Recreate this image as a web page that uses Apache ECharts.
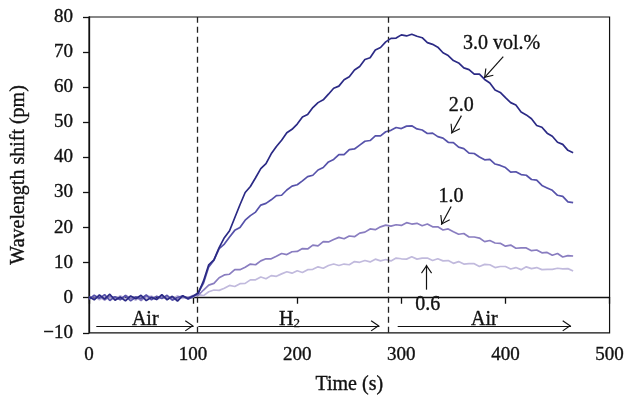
<!DOCTYPE html>
<html>
<head>
<meta charset="utf-8">
<script src="https://cdn.jsdelivr.net/npm/echarts@6/dist/echarts.min.js"></script>
<style>html,body{margin:0;padding:0;background:#fff;}#c{width:627px;height:400px;}</style>
</head>
<body>
<div id="c"></div>
<script>
const times = [0,5,10,15,20,25,30,35,40,45,50,55,60,65,70,75,80,85,90,95,100,105,110,115,120,125,130,135,140,145,150,155,160,165,170,175,180,185,190,195,200,205,210,215,220,225,230,235,240,245,250,255,260,265,270,275,280,285,290,295,300,305,310,315,320,325,330,335,340,345,350,355,360,365,370,375,380,385,390,395,400,405,410,415,420,425,430,435,440,445,450,455,460,465];

const shift30 = [0.3,-0.6,0.8,-0.4,1.0,-0.7,0.2,-0.9,0.5,-0.3,0.7,-0.8,0.1,-0.5,0.9,-0.6,0.4,-1.0,0.6,-0.2,0.5,
1.3,4.8,9.4,10.8,14.3,17.1,19.1,22.8,26.5,30.0,31.7,34.2,36.8,38.2,41.0,43.1,44.9,47.0,48.0,49.5,51.5,52.2,54.2,55.6,56.4,58.0,59.7,60.3,62.1,63.0,64.9,65.9,67.9,68.4,70.6,71.3,72.9,73.9,74.0,74.9,74.6,75.1,74.5,74.1,72.7,72.2,71.4,69.8,69.0,67.6,66.9,65.5,65.0,63.7,63.7,62.2,61.2,59.2,58.5,57.0,55.6,54.9,52.9,52.1,51.0,49.1,48.6,46.9,46.0,44.3,43.7,42.0,41.3];

const shift20 = [-0.4,0.7,-0.2,0.9,-0.8,0.3,-0.5,0.6,-0.9,0.2,-0.3,0.8,-0.6,0.4,-0.2,0.7,-0.7,0.1,0.5,-0.4,0.3,
1.5,4.2,8.8,10.7,14.0,15.3,17.3,19.2,20.0,22.1,23.4,24.4,26.4,26.9,27.9,29.1,29.2,30.7,31.8,32.2,33.3,34.5,34.9,36.4,37.1,38.7,39.4,40.8,40.8,42.2,42.4,43.5,44.6,44.8,46.1,46.1,47.3,47.7,48.5,48.2,48.9,49.0,48.1,47.8,46.8,46.9,45.9,45.5,44.3,44.2,42.9,42.5,41.2,41.1,40.1,39.3,39.4,38.1,37.7,37.1,35.8,35.9,35.1,34.9,33.7,33.5,32.0,31.3,30.6,29.2,28.9,27.3,27.1];

const shift10 = [0.2,-0.3,0.5,-0.7,0.4,0.1,-0.6,0.7,-0.2,0.3,-0.8,0.5,0.2,-0.4,0.6,-0.3,0.1,-0.6,0.4,0.0,0.6,
0.7,2.2,3.6,4.1,5.7,6.5,6.7,8.0,8.0,8.7,9.6,9.4,10.5,11.1,11.1,11.8,12.6,12.3,13.1,13.2,14.0,13.9,15.0,14.8,16.0,15.9,16.6,17.2,16.8,17.6,17.4,18.4,18.7,19.6,19.4,20.2,20.7,20.4,20.8,20.6,21.4,21.0,21.2,20.5,21.0,20.2,20.2,19.3,19.6,18.8,18.1,18.3,17.3,17.3,17.0,16.0,16.3,15.6,15.5,14.7,15.0,14.1,14.2,14.2,13.4,13.6,12.8,12.9,12.1,12.6,11.6,12.0,11.9];

const shift06 = [-0.2,0.4,-0.6,0.3,0.2,-0.5,0.6,-0.3,0.1,-0.7,0.4,-0.1,0.5,-0.6,0.2,0.3,-0.4,0.6,-0.2,0.1,0.2,
0.9,0.6,1.7,2.2,2.1,2.7,3.5,3.2,4.0,4.1,5.1,5.1,5.9,5.4,6.3,6.1,6.8,7.4,7.0,7.7,7.2,8.0,8.1,8.8,8.4,9.2,9.6,9.2,9.6,9.4,10.3,10.1,10.6,10.2,11.0,10.5,10.9,10.5,11.3,11.1,11.0,11.7,11.0,11.3,11.3,10.6,11.1,10.5,10.6,9.8,10.3,9.6,9.7,9.7,8.9,9.5,9.4,8.6,8.9,8.9,8.2,8.6,8.0,8.8,8.3,8.6,8.0,8.1,8.1,8.4,8.2,8.3,7.6];

const seriesNames = ['0.6', '1.0', '2.0', '3.0 vol.%'];
const xTicks = [0, 100, 200, 300, 400, 500];
const yTicks = [-10, 0, 10, 20, 30, 40, 50, 60, 70, 80];

// Annotations (data coordinates)
const gasSwitchTimes = [104, 287];
const annoText = ['Air', 'H2', 'Air', '3.0 vol.%', '2.0', '1.0', '0.6'];
const annoX = [54, 192.6, 379.8, 396.2, 357.5, 347.6, 325.3];
const annoY = [-6.3, -6.3, -6.3, 72.3, 54.8, 28.7, -1.9];
const arrowFrom = [[7, -8], [105, -8], [296.5, -8], [397.9, 68.7], [357.7, 51.9], [347.8, 26.0], [324.2, 2.3]];
const arrowTo   = [[100.5, -8], [279, -8], [463, -8], [379.4, 62.6], [348.1, 46.8], [338.4, 20.8], [324.2, 9.4]];

const FONT = "'Liberation Serif', 'DejaVu Serif', serif";
const TXT = '#111';
const colors = ['#c1badd', '#897dc0', '#5652aa', '#2b2a85'];

function pairs(vals) { return times.map((t, i) => [t, vals[i]]); }

const chevron = 'path://M6,10 L11.5,18 L10.6,18.7 L6,12.0 L1.4,18.7 L0.5,18 Z M5.95,0 L6.05,0 L6.05,0.1 L5.95,0.1 Z M5.95,19.9 L6.05,19.9 L6.05,20 L5.95,20 Z';

const markLines = gasSwitchTimes.map(x => ({
  xAxis: x,
  lineStyle: { type: [6, 4], color: '#222', width: 1.3 }
}));
arrowFrom.forEach((f, i) => {
  markLines.push([
    { coord: f, symbol: 'none' },
    { coord: arrowTo[i], symbol: chevron, symbolSize: [11, 20] }
  ]);
});

const txtBold = { textBorderColor: TXT, textBorderWidth: 0.35 };

const chart = echarts.init(document.getElementById('c'), null, { renderer: 'canvas' });
const lineSeries = [shift06, shift10, shift20, shift30].map((vals, i) => ({
  name: seriesNames[i],
  type: 'line',
  data: pairs(vals),
  showSymbol: false,
  symbol: 'none',
  lineStyle: { color: colors[i], width: 1.7 },
  itemStyle: { color: colors[i] },
  z: 2 + i
}));

chart.setOption({
  animation: false,
  backgroundColor: '#fff',
  textStyle: { fontFamily: FONT, color: TXT },
  grid: { left: 89, right: 15, top: 17, bottom: 63, show: true, borderColor: TXT, borderWidth: 1.2, backgroundColor: 'transparent' },
  xAxis: {
    type: 'value', min: xTicks[0], max: xTicks[xTicks.length - 1], interval: 100,
    name: 'Time (s)', nameLocation: 'middle', nameGap: 42,
    nameTextStyle: Object.assign({ fontFamily: FONT, fontSize: 20, color: TXT }, txtBold),
    axisLine: { lineStyle: { color: TXT, width: 1.3 } },
    axisTick: { show: true, inside: false, length: 6, lineStyle: { color: TXT, width: 1.3 } },
    axisLabel: Object.assign({ fontFamily: FONT, fontSize: 19, color: TXT, margin: 13 }, txtBold),
    splitLine: { show: false }
  },
  yAxis: {
    type: 'value', min: yTicks[0], max: yTicks[yTicks.length - 1], interval: 10,
    name: 'Wavelength shift (pm)', nameLocation: 'middle', nameGap: 60,
    nameTextStyle: Object.assign({ fontFamily: FONT, fontSize: 20, color: TXT }, txtBold),
    axisLine: { show: true, lineStyle: { color: TXT, width: 1.3 } },
    axisTick: { show: true, inside: false, length: 6, lineStyle: { color: TXT, width: 1.3 } },
    axisLabel: Object.assign({ fontFamily: FONT, fontSize: 19, color: TXT, margin: 16,
      formatter: v => (v < 0 ? '\u2212' + Math.abs(v) : String(v)) }, txtBold),
    splitLine: { show: false }
  },
  series: lineSeries.concat([{
    type: 'scatter',
    name: 'annotations',
    symbolSize: 1,
    itemStyle: { color: 'rgba(0,0,0,0)' },
    silent: true,
    z: 10,
    data: annoText.map((t, i) => ({ value: [annoX[i], annoY[i]], name: t })),
    label: {
      show: true, position: [0.5, 0.5], align: 'center', verticalAlign: 'middle',
      color: TXT, opacity: 1, textBorderColor: TXT, textBorderWidth: 0.35, fontFamily: FONT, fontSize: 20,
      formatter: p => (p.name === 'H2' ? '{h|H}{s|2}' : p.name),
      rich: {
        h: { fontFamily: FONT, fontSize: 20, color: TXT, textBorderColor: TXT, textBorderWidth: 0.35, lineHeight: 20, verticalAlign: 'bottom' },
        s: { fontFamily: FONT, fontSize: 13, color: TXT, textBorderColor: TXT, textBorderWidth: 0.3, lineHeight: 13, verticalAlign: 'bottom' }
      }
    },
    markLine: {
      silent: true,
      symbol: ['none', 'none'],
      label: { show: false },
      lineStyle: { color: TXT, width: 1.2, type: 'solid' },
      itemStyle: { color: TXT },
      data: markLines
    }
  }])
});
</script>
</body>
</html>
